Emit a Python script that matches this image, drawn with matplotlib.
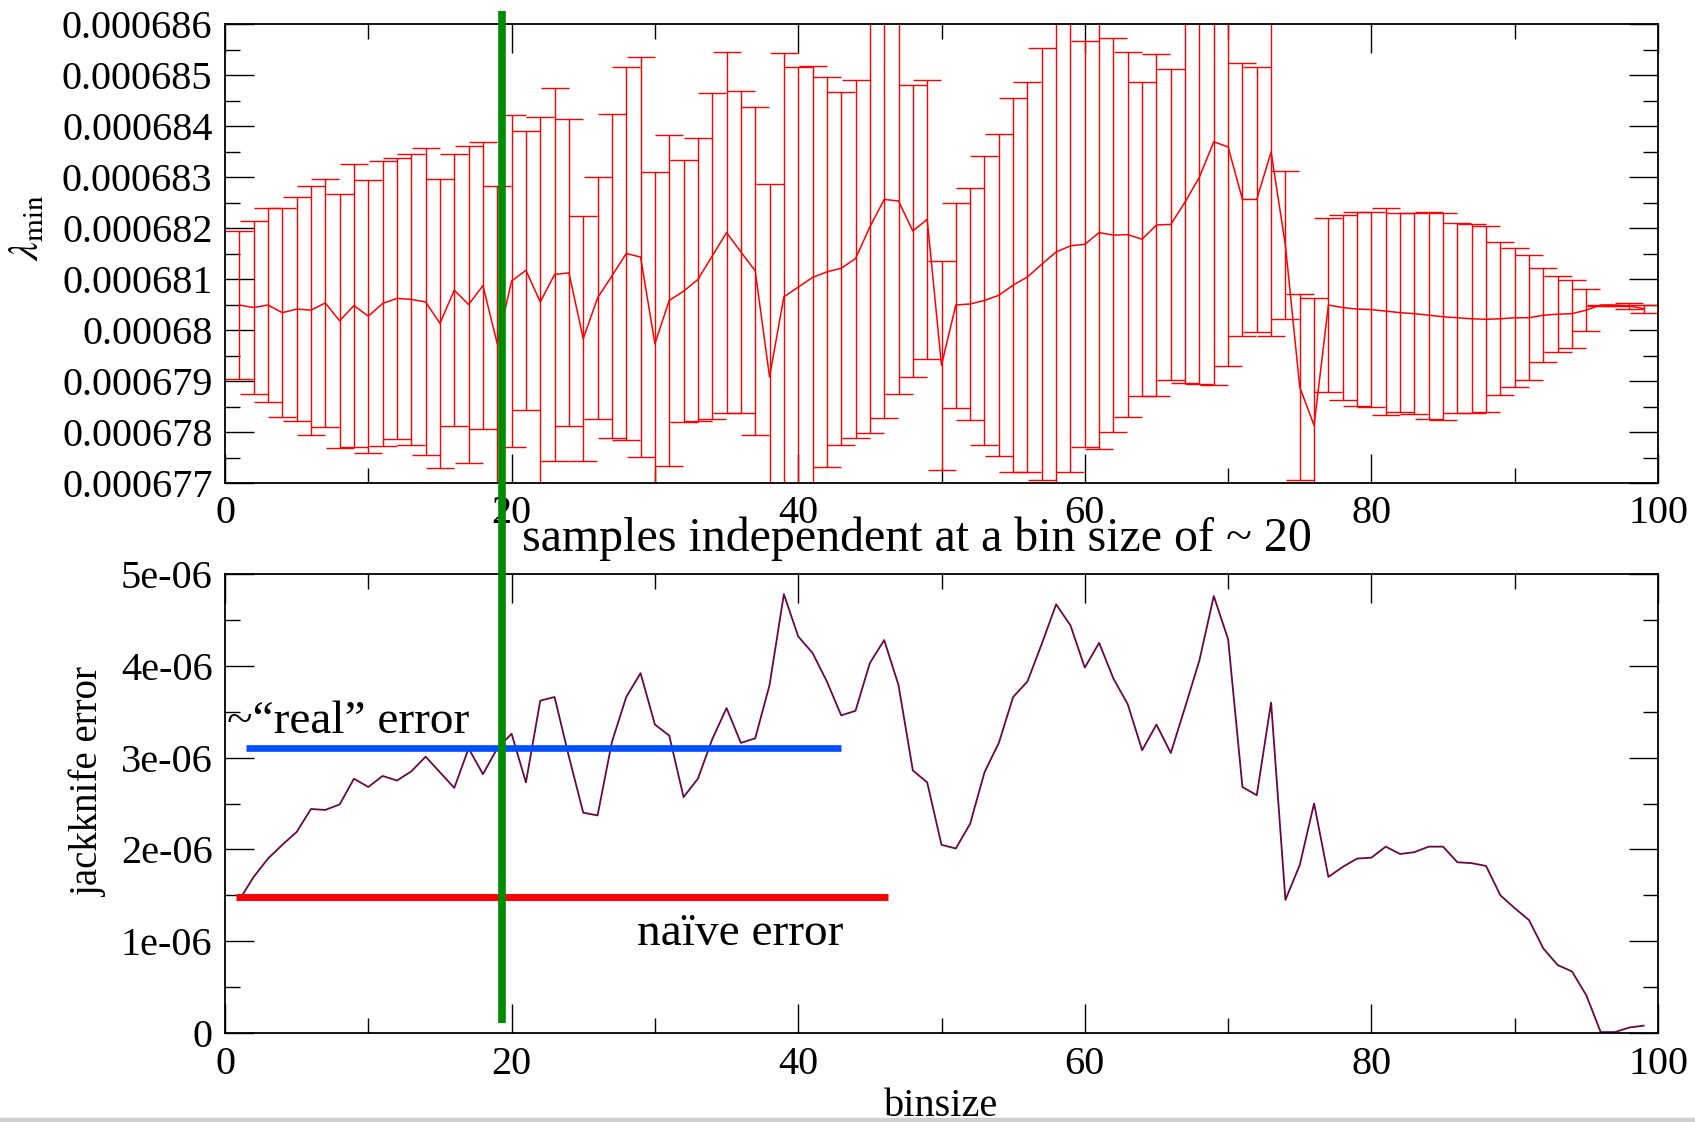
import matplotlib.pyplot as plt
import matplotlib.transforms as mtransforms
import numpy as np

from matplotlib.lines import Line2D
from matplotlib.patches import Rectangle
from matplotlib.ticker import FuncFormatter, MultipleLocator

# bin sizes 1..99
binsize = np.arange(1, 100)

# mean of lambda_min per bin size, in units of 1e-6
lam_mean = [
    680.49, 680.44, 680.49, 680.34, 680.41, 680.39, 680.53, 680.18, 680.48, 680.27,
    680.52, 680.62, 680.60, 680.55, 680.13, 680.78, 680.50, 680.87, 679.73, 680.96,
    681.17, 680.55, 681.09, 681.12, 679.83, 680.63, 681.06, 681.50, 681.43, 679.73,
    680.58, 680.76, 680.99, 681.45, 681.91, 681.53, 681.16, 679.08, 680.65, 680.84,
    681.03, 681.14, 681.21, 681.40, 682.02, 682.56, 682.53, 681.94, 682.17, 679.31,
    680.49, 680.51, 680.58, 680.68, 680.88, 681.04, 681.29, 681.53, 681.65, 681.68,
    681.91, 681.86, 681.87, 681.78, 682.06, 682.07, 682.51, 683.00, 683.69, 683.59,
    682.56, 682.56, 683.49, 681.66, 678.88, 678.13, 680.49, 680.44, 680.41, 680.40,
    680.37, 680.34, 680.32, 680.29, 680.26, 680.24, 680.22, 680.21, 680.22, 680.24,
    680.24, 680.29, 680.31, 680.32, 680.39, 680.49, 680.49, 680.47, 680.42,
]

# jackknife error per bin size, in units of 1e-6
jk_err = [
    1.45, 1.70, 1.90, 2.05, 2.19, 2.44, 2.43, 2.49, 2.77, 2.68,
    2.80, 2.75, 2.85, 3.01, 2.84, 2.67, 3.10, 2.82, 3.10, 3.26,
    2.73, 3.62, 3.66, 3.01, 2.40, 2.37, 3.17, 3.66, 3.92, 3.36,
    3.24, 2.57, 2.77, 3.20, 3.54, 3.16, 3.21, 3.79, 4.78, 4.32,
    4.14, 3.83, 3.46, 3.51, 4.03, 4.28, 3.79, 2.86, 2.73, 2.05,
    2.01, 2.28, 2.84, 3.16, 3.66, 3.83, 4.24, 4.67, 4.44, 3.98,
    4.25, 3.86, 3.58, 3.08, 3.36, 3.05, 3.55, 4.06, 4.76, 4.29,
    2.68, 2.59, 3.60, 1.45, 1.83, 2.50, 1.70, 1.81, 1.90, 1.91,
    2.03, 1.95, 1.97, 2.03, 2.03, 1.86, 1.85, 1.82, 1.50, 1.36,
    1.23, 0.92, 0.74, 0.67, 0.41, 0.01, 0.01, 0.06, 0.08,
]

# reference levels (units of 1e-6) and the bin ranges they are drawn over
real_err = 3.11
real_span = (1.5, 43.0)
naive_err = 1.48
naive_span = (0.75, 46.3)
indep_bin = 19.33

W, H = 1695, 1122


def style_axes(ax):
    ax.set_xlim(0, 100)
    ax.xaxis.set_major_locator(MultipleLocator(20))
    ax.xaxis.set_minor_locator(MultipleLocator(10))
    ax.tick_params(which="both", direction="in", top=True, right=True,
                   width=1.0, labelsize=29, color="black")
    ax.tick_params(which="major", length=21)
    ax.tick_params(which="minor", length=11)
    ax.tick_params(axis="y", pad=9)
    ax.tick_params(axis="x", pad=9)
    for s in ax.spines.values():
        s.set_linewidth(1.3)


def main() -> None:
    plt.rcParams["font.family"] = ["Liberation Serif", "DejaVu Serif"]
    plt.rcParams["mathtext.fontset"] = "stix"

    fig = plt.figure(figsize=(W / 100, H / 100), dpi=100)
    ax1 = fig.add_axes([225 / W, 1 - 483 / H, 1433 / W, 459 / H])
    ax2 = fig.add_axes([225 / W, 1 - 1033 / H, 1433 / W, 459 / H])

    mean = np.array(lam_mean) * 1e-6
    err = np.array(jk_err) * 1e-6
    fmt = FuncFormatter(lambda v, _: f"{v:g}" if abs(v) > 1e-12 else "0")

    # top: lambda_min with jackknife error bars
    ax1.errorbar(binsize, mean, yerr=err, color="red", lw=1.1, elinewidth=1.0,
                 capsize=10, capthick=1.0)
    style_axes(ax1)
    ax1.set_ylim(677e-6, 686e-6)
    ax1.yaxis.set_major_locator(MultipleLocator(1e-6))
    ax1.yaxis.set_minor_locator(MultipleLocator(5e-7))
    ax1.yaxis.set_major_formatter(fmt)
    ax1.set_ylabel(r"$\lambda_{\rm min}$", fontsize=30, ha="center", va="center")
    ax1.yaxis.set_label_coords(-0.1375, 0.556)

    # bottom: jackknife error vs bin size
    ax2.plot(binsize, err, color="#670748", lw=1.3)
    ax2.hlines(real_err * 1e-6, *real_span, color="#0050ff", lw=4.8)
    ax2.hlines(naive_err * 1e-6, *naive_span, color="#ff0000", lw=5.0)
    style_axes(ax2)
    ax2.set_ylim(0, 5e-6)
    ax2.yaxis.set_major_locator(MultipleLocator(1e-6))
    ax2.yaxis.set_minor_locator(MultipleLocator(5e-7))
    ax2.yaxis.set_major_formatter(fmt)
    ax2.set_ylabel("jackknife error", fontsize=28, ha="center", va="center")
    ax2.yaxis.set_label_coords(-0.0956, 0.547)
    ax2.set_xlabel("binsize", fontsize=29, va="baseline")
    ax2.xaxis.set_label_coords(0.5, -0.181)

    ax2.text(0.14, 3.27e-6, "~\u201creal\u201d error", fontsize=34,
             ha="left", va="baseline")
    ax2.text(28.75, 0.96e-6, "na\u00efve error", fontsize=34,
             ha="left", va="baseline")
    fig.text(522 / W, 1 - 551 / H, "samples independent at a bin size of ~ 20",
             fontsize=34.5, ha="left", va="baseline")

    # green marker spanning both panels
    trans = mtransforms.blended_transform_factory(ax2.transData, fig.transFigure)
    fig.add_artist(Line2D([indep_bin, indep_bin], [1 - 1023 / H, 1 - 11 / H],
                          transform=trans, color="#008b00", lw=5.5,
                          solid_capstyle="butt", zorder=10))

    fig.add_artist(Rectangle((0, 0), 1, 4 / H, transform=fig.transFigure,
                             color="#cfcfcf", zorder=0))

    fig.savefig("out.png", dpi=100)
    plt.close(fig)


if __name__ == "__main__":
    main()
